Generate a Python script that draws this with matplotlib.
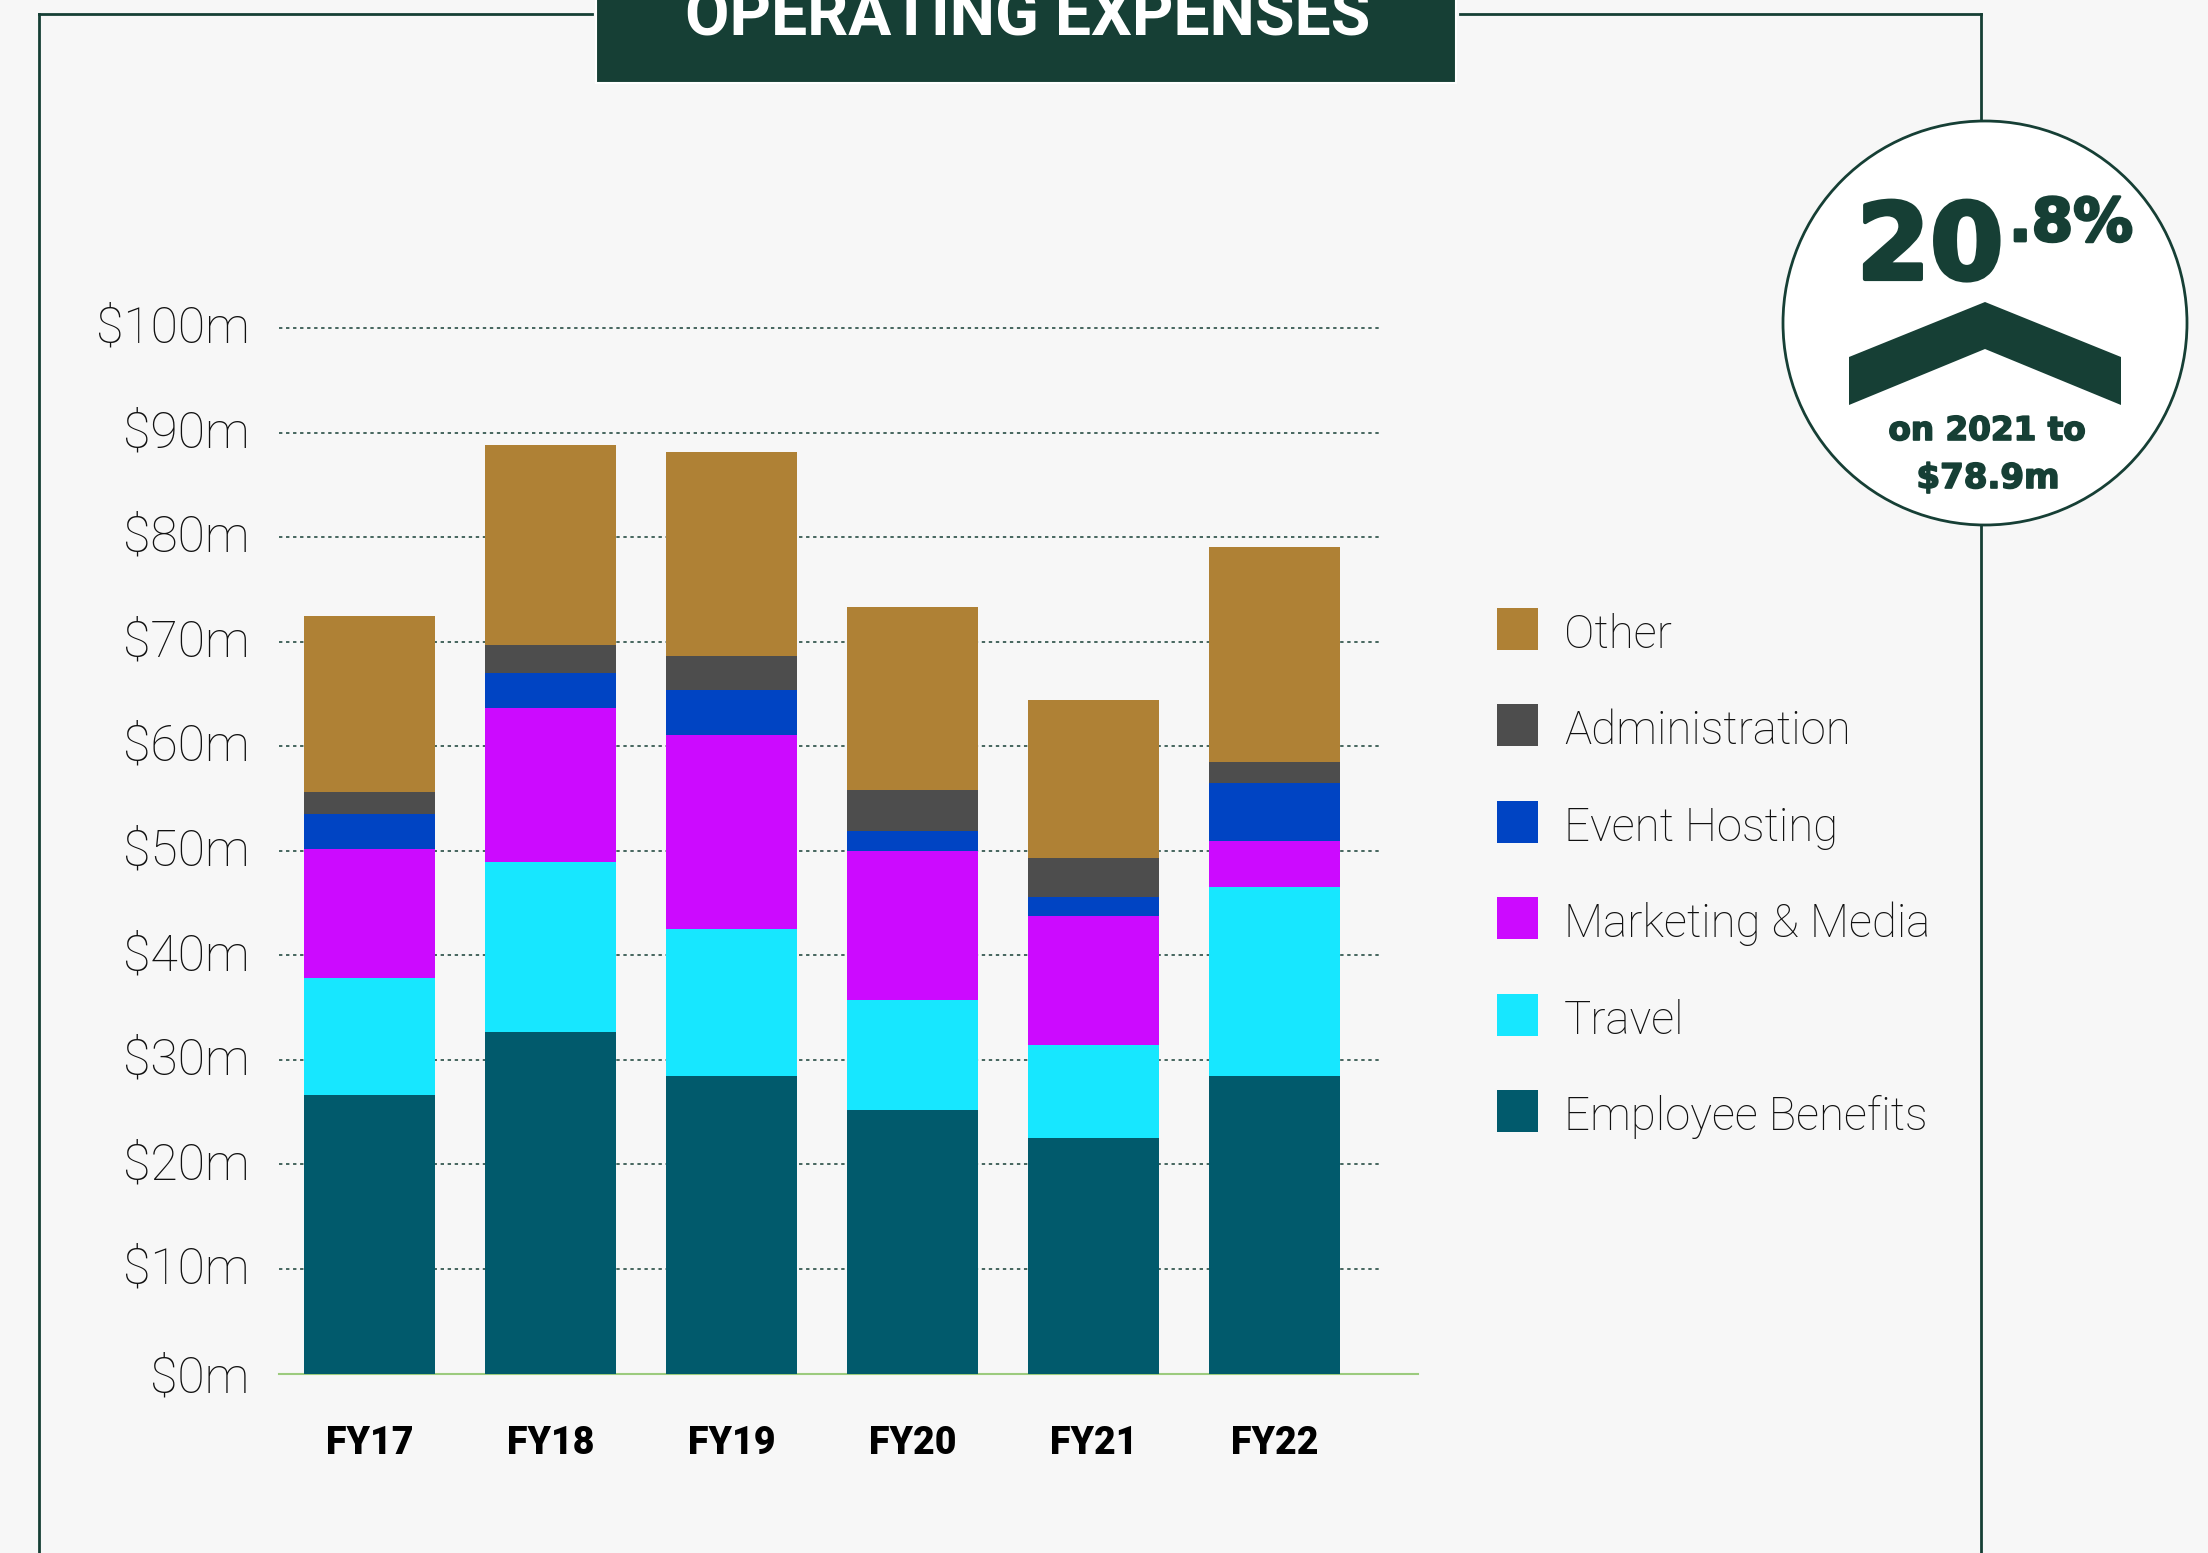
import matplotlib
matplotlib.use("Agg")
import matplotlib.pyplot as plt
import matplotlib.patheffects as pe
from matplotlib.patches import Circle, Polygon, Rectangle
from matplotlib.transforms import ScaledTranslation

# ---- data ($m per segment) ----
YEARS = ["FY17", "FY18", "FY19", "FY20", "FY21", "FY22"]
EMPLOYEE = [26.6, 32.7, 28.5, 25.2, 22.5, 28.5]
TRAVEL = [11.2, 16.2, 14.0, 10.5, 8.9, 18.0]
MARKETING = [12.4, 14.8, 18.6, 14.3, 12.4, 4.4]
EVENT = [3.3, 3.3, 4.3, 1.9, 1.8, 5.6]
ADMIN = [2.1, 2.7, 3.2, 3.9, 3.7, 2.0]
OTHER = [16.9, 19.1, 19.5, 17.5, 15.1, 20.6]
SERIES_NAMES = ["Employee Benefits", "Travel", "Marketing & Media",
                "Event Hosting", "Administration", "Other"]
SERIES_VALUES = [EMPLOYEE, TRAVEL, MARKETING, EVENT, ADMIN, OTHER]
TICKS = [0, 10, 20, 30, 40, 50, 60, 70, 80, 90, 100]

# ---- palette ----
DARK = "#163F35"
BG = "#F7F7F7"
COLORS = ["#015A6C", "#17E7FF", "#CC0AFF", "#0044C3", "#4D4D4D", "#AF8135"]

W, H = 2208, 1553
plt.rcParams["font.family"] = ["Roboto", "DejaVu Sans"]

fig = plt.figure(figsize=(W / 100, H / 100), dpi=100, facecolor=BG)

# overlay in pixel coordinates for the frame, badge and legend
deco = fig.add_axes([0, 0, 1, 1], zorder=0)
deco.set_xlim(0, W)
deco.set_ylim(H, 0)
deco.axis("off")

# frame, runs off the bottom of the page
deco.plot([39, 39], [H + 5, 14], color=DARK, lw=2)
deco.plot([39, 592], [14, 14], color=DARK, lw=2)
deco.plot([1460, 1981], [14, 14], color=DARK, lw=2)
deco.plot([1981, 1981], [14, H + 5], color=DARK, lw=2)

# title tab, cut by the top of the page
deco.add_patch(Rectangle((596, -10), 860, 93, facecolor=DARK, edgecolor="white", lw=1.5, zorder=3))
deco.text(1028, 36, "OPERATING EXPENSES", color="white", fontsize=46.3, fontweight="bold",
          ha="center", va="baseline", zorder=4)


def heavy(x, y, s, size, extra):
    # the badge face is wider and heavier than the installed faces, so thicken DejaVu bold
    deco.text(x, y, s, color=DARK, fontsize=size, fontweight="bold", family="DejaVu Sans",
              ha="center", va="baseline", zorder=4,
              path_effects=[pe.withStroke(linewidth=extra, foreground=DARK)])


# badge
deco.add_patch(Circle((1985, 323), 202, facecolor="white", edgecolor=DARK, lw=2, zorder=3))
deco.add_patch(Polygon([(1849, 357), (1985, 302), (2121, 357), (2121, 405), (1985, 349), (1849, 405)],
                       facecolor=DARK, edgecolor="none", zorder=4))
heavy(1930, 279, "20", 76, 3)
heavy(2071, 241, ".8%", 43, 2)
heavy(1987, 440, "on 2021 to", 23.5, 1.2)
heavy(1988, 488, "$78.9m", 24.5, 1.2)

# legend, top entry is the top of the stack
legend_y = [629, 725, 822, 918, 1015, 1111]
for y, name, color in zip(legend_y, SERIES_NAMES[::-1], COLORS[::-1]):
    deco.add_patch(Rectangle((1497, y - 21), 41, 42, facecolor=color, edgecolor="none"))
    deco.text(1564, y + 6, name, color="#111111", fontsize=32.8, fontweight="light",
              ha="left", va="center")

# chart
PX_UNIT = 181.0
X0 = 369.6
left, right = 279, 1418
top, bottom = 328, 1373.5
ax = fig.add_axes([left / W, 1 - bottom / H, (right - left) / W, (bottom - top) / H], zorder=1)
ax.patch.set_alpha(0)
ax.set_xlim((left - X0) / PX_UNIT, (right - X0) / PX_UNIT)
ax.set_ylim(0, 100)

xs = list(range(len(YEARS)))
base = [0.0] * len(YEARS)
for vals, color, name in zip(SERIES_VALUES, COLORS, SERIES_NAMES):
    ax.bar(xs, vals, width=0.72, bottom=base, color=color, label=name, zorder=3)
    base = [b + v for b, v in zip(base, vals)]

grid_end = (1381 - X0) / PX_UNIT
for t in TICKS[1:]:
    ax.plot([ax.get_xlim()[0], grid_end], [t, t], color=DARK, lw=1.1,
            linestyle=(0, (2.2, 2.4)), zorder=1, clip_on=False)

for s in ["top", "right", "left"]:
    ax.spines[s].set_visible(False)
ax.spines["bottom"].set_color("#9CCB7E")
ax.spines["bottom"].set_linewidth(1.5)

ax.set_yticks(TICKS)
ax.set_yticklabels([f"${t}m" for t in TICKS], fontsize=36, fontweight="light", color="#111111")
ax.tick_params(axis="y", length=0, pad=21)
shift = ScaledTranslation(0, 4 / 100, fig.dpi_scale_trans)
for lab in ax.get_yticklabels()[1:]:
    lab.set_transform(lab.get_transform() + shift)

ax.set_xticks(xs)
ax.set_xticklabels(YEARS, fontsize=27, fontweight="black", color="#000000")
ax.tick_params(axis="x", length=0, pad=37)

fig.savefig("out.png", dpi=100, facecolor=BG)
